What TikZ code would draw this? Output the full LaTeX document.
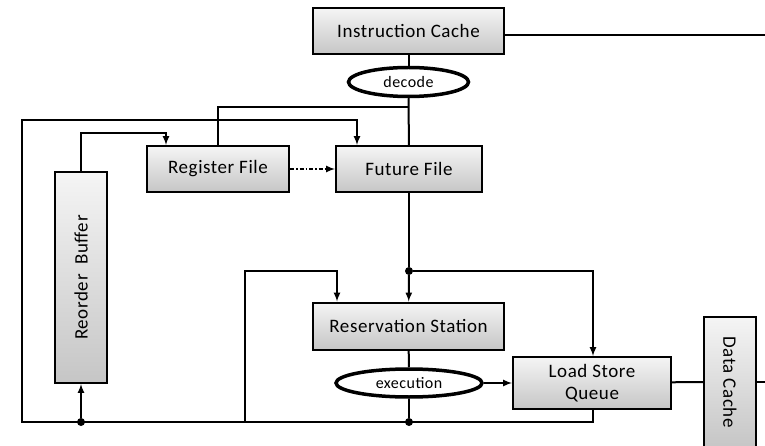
\documentclass[tikz,border=0pt]{standalone}
\usepackage{fontspec}
\setmainfont{Carlito}[LetterSpace=3]
\usetikzlibrary{positioning,arrows,shapes.geometric}

\tikzset{
  unit/.style={draw=black, line width=2pt, top color=gray!8, bottom color=gray!45,
    font=\fontsize{19}{22}\selectfont, align=center, inner sep=0pt},
  stage/.style={draw=black, ellipse, line width=3.5pt, fill=white,
    font=\fontsize{16}{18}\selectfont, inner sep=0pt},
  wire/.style={line width=2pt},
  joint/.style={circle, fill=black, inner sep=0pt, minimum size=8pt}
}

\begin{document}
\begin{tikzpicture}[x=1pt,y=-1pt]
		\useasboundingbox (0,0) rectangle (765,446);
		\clip (0,0) rectangle (765,446);
		% units
		\node [unit, minimum width=191pt, minimum height=46pt] (icache) at (408.5,31) {Instruction Cache};
		\node [stage, minimum width=120pt, minimum height=29pt] (decode) at (408.5,82) {decode};
		\node [unit, minimum width=142pt, minimum height=46pt] (regfile) at (218,169) {Register File};
		\node [unit, minimum width=146pt, minimum height=46pt] (futfile) at (409,169) {Future File};
		\node [unit, minimum width=211pt, minimum height=52pt, rotate=90] (rob) at (81,277.5) {Reorder~~Buffer};
		\node [unit, minimum width=191pt, minimum height=47pt] (resstat) at (408.5,326) {Reservation Station};
		\node [stage, minimum width=146pt, minimum height=28pt] (exec) at (409,383) {execution};
		\node [unit, minimum width=158pt, minimum height=52pt] (lsq) at (592,383) {Load Store\\Queue};
		\node [unit, minimum width=131pt, minimum height=52pt, rotate=-90] (dcache) at (730,382) {Data Cache};
		% junctions
		\node [joint] (jff) at (409,271) {};
		\node [joint] (jex) at (409,422) {};
		\node [joint] (jrob) at (81,422) {};
		\coordinate (icout) at (765,35);
		\coordinate (dcout) at (765,382);
		\coordinate (rfup) at (409,107);
		\coordinate (loopbl) at (22,422);
		\coordinate (looptl) at (22,120);
		\coordinate (robup) at (166,133);
		\coordinate (rsin) at (337,271);
		\coordinate (rsbl) at (245,422);
		\coordinate (lsqin) at (593,271);
		% connectors
		\draw [wire] (icache.east |- icout) -- (icout);
		\draw [wire] (icache) -- (decode);
		\draw [wire] (decode) -- (futfile);
		\draw [wire] (regfile) |- (rfup);
		\draw [wire,-latex] (lsq.south -| lsqin) |- (loopbl) |- (looptl -| 357,0) -- (futfile.north -| 357,0);
		\draw [wire,-latex] (jrob) -- (rob.west);
		\draw [wire,-latex] (rob.east) |- (robup) -- (regfile.north -| robup);
		\draw [wire,-latex] (rsbl) |- (rsin) -- (resstat.north -| rsin);
		\draw [wire] (futfile) -- (jff);
		\draw [wire,-latex] (jff) -- (resstat);
		\draw [wire,-latex] (jff) -- (lsqin) -- (lsq.north -| lsqin);
		\draw [wire] (resstat) -- (exec);
		\draw [wire] (exec) -- (jex);
		\draw [wire,-latex] (exec) -- (lsq);
		\draw [wire] (lsq) -- (dcache.south);
		\draw [wire] (dcache.north) -- (dcout);
		\draw [wire,-latex,dash pattern=on 4pt off 2pt on 1.5pt off 2pt] (regfile) -- (futfile);
\end{tikzpicture}
\end{document}
